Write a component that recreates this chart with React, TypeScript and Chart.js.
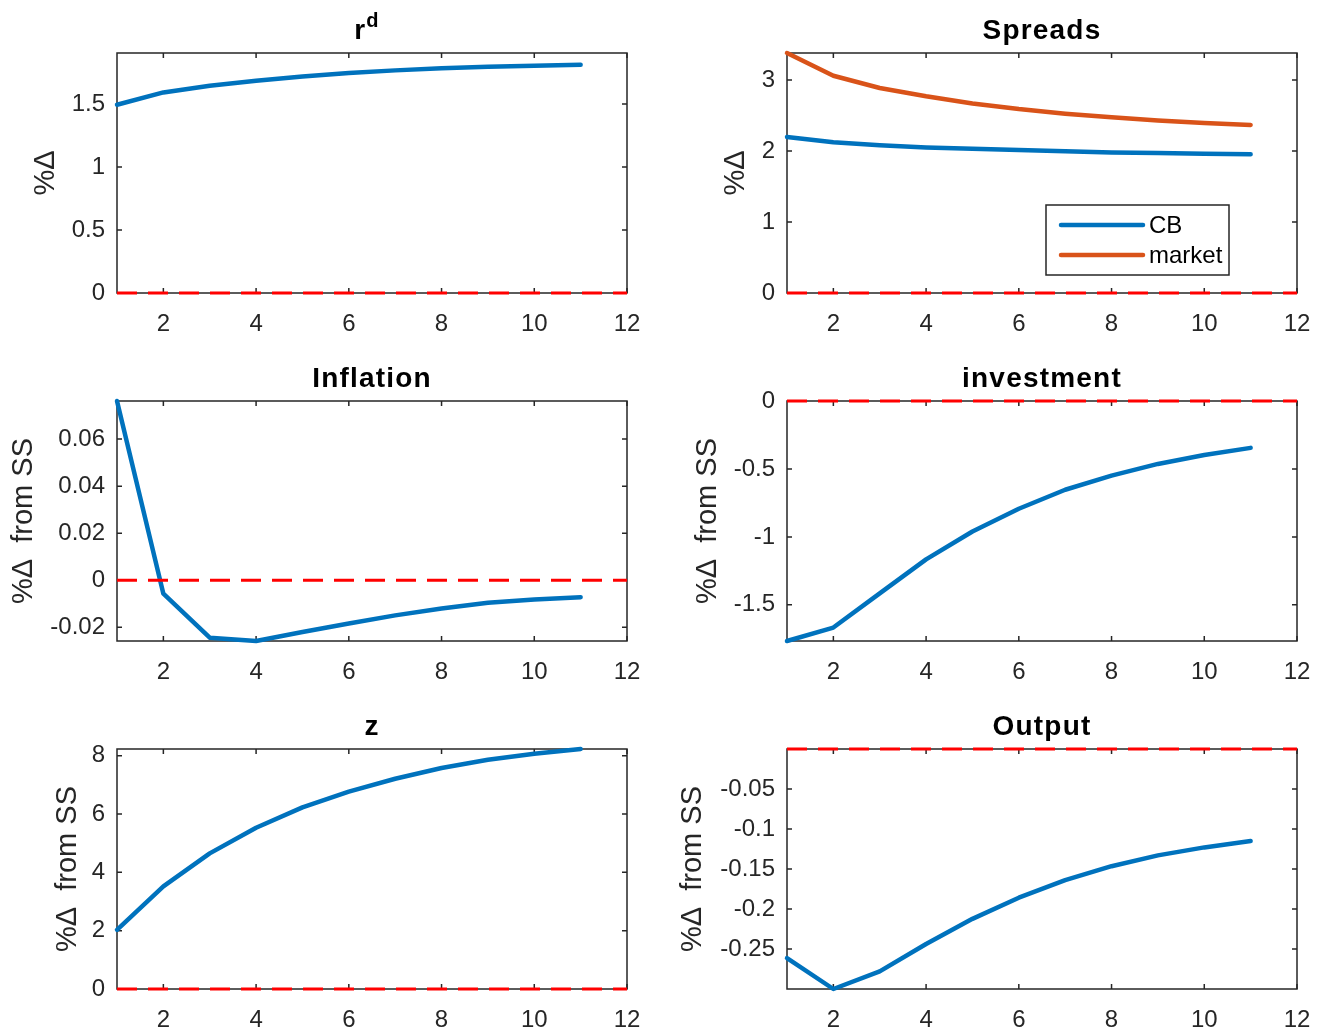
import React, { useEffect, useRef } from "react";
import { Chart, registerables } from "chart.js";

Chart.register(...registerables);

// ---------------- data ----------------
const periods = [1, 2, 3, 4, 5, 6, 7, 8, 9, 10, 11];
const xLimits = [1, 12];
const xTicks = [2, 4, 6, 8, 10, 12];

const rdValues = [1.495, 1.593, 1.646, 1.686, 1.72, 1.747, 1.768, 1.784, 1.797, 1.805, 1.813];
const rdLimits = [0, 1.906];
const rdTicks = [0, 0.5, 1, 1.5];

const spreadCB = [2.197, 2.122, 2.08, 2.05, 2.033, 2.014, 1.995, 1.98, 1.972, 1.962, 1.953];
const spreadMarket = [3.38, 3.06, 2.887, 2.77, 2.67, 2.59, 2.526, 2.474, 2.43, 2.394, 2.366];
const spreadLimits = [0, 3.38];
const spreadTicks = [0, 1, 2, 3];

const inflationValues = [0.0762, -0.0057, -0.0244, -0.0258, -0.022, -0.0184, -0.0149, -0.012, -0.0095, -0.0082, -0.0072];
const inflationLimits = [-0.0258, 0.0762];
const inflationTicks = [-0.02, 0, 0.02, 0.04, 0.06];

const investmentValues = [-1.766, -1.667, -1.416, -1.165, -0.96, -0.793, -0.653, -0.549, -0.463, -0.397, -0.345];
const investmentLimits = [-1.766, 0];
const investmentTicks = [-1.5, -1, -0.5, 0];

const zValues = [2.03, 3.52, 4.65, 5.53, 6.23, 6.77, 7.21, 7.58, 7.86, 8.07, 8.23];
const zLimits = [0, 8.23];
const zTicks = [0, 2, 4, 6, 8];

const outputValues = [-0.2613, -0.3, -0.278, -0.2437, -0.2123, -0.1859, -0.164, -0.1465, -0.133, -0.123, -0.115];
const outputLimits = [-0.3, 0];
const outputTicks = [-0.25, -0.2, -0.15, -0.1, -0.05];

// ---------------- styles ----------------
const BLUE = "#0072BD";
const ORANGE = "#D95319";
const AXIS = "#262626";
const FONT = "'Liberation Sans', Arial, Helvetica, sans-serif";

const COL_LEFT = [0, 664];
const COL_W = [664, 664];
const AXIS_LEFT = [117, 787];
const AXIS_RIGHT = [627, 1297];
const ROW_TOP = [0, 348, 696];
const ROW_H = [345, 345, 335];
const PLOT_TOP = 53;
const PLOT_H = 240;

type Series = { label: string; values: number[]; color: string };
type Panel = {
  title: string;
  sup?: string;
  yLabel: string;
  yLabelPad: number;
  series: Series[];
  limits: number[];
  ticks: number[];
  col: number;
  row: number;
  legend?: boolean;
};

const panels: Panel[] = [
  { title: "r", sup: "d", yLabel: "%Δ", yLabelPad: 29, series: [{ label: "rd", values: rdValues, color: BLUE }], limits: rdLimits, ticks: rdTicks, col: 0, row: 0 },
  {
    title: "Spreads", yLabel: "%Δ", yLabelPad: 55,
    series: [
      { label: "CB", values: spreadCB, color: BLUE },
      { label: "market", values: spreadMarket, color: ORANGE },
    ],
    limits: spreadLimits, ticks: spreadTicks, col: 1, row: 0, legend: true,
  },
  { title: "Inflation", yLabel: "%Δ  from SS", yLabelPad: 7, series: [{ label: "Inflation", values: inflationValues, color: BLUE }], limits: inflationLimits, ticks: inflationTicks, col: 0, row: 1 },
  { title: "investment", yLabel: "%Δ  from SS", yLabelPad: 27, series: [{ label: "investment", values: investmentValues, color: BLUE }], limits: investmentLimits, ticks: investmentTicks, col: 1, row: 1 },
  { title: "z", yLabel: "%Δ  from SS", yLabelPad: 51, series: [{ label: "z", values: zValues, color: BLUE }], limits: zLimits, ticks: zTicks, col: 0, row: 2 },
  { title: "Output", yLabel: "%Δ  from SS", yLabelPad: 12, series: [{ label: "Output", values: outputValues, color: BLUE }], limits: outputLimits, ticks: outputTicks, col: 1, row: 2 },
];

// ---------------- plugins ----------------
const TICK_LEN = 5;

const framePlugin = {
  id: "frame",
  beforeDatasetsDraw(chart: any) {
    const { ctx, chartArea } = chart;
    const { left, right, top, bottom } = chartArea;
    const xs = chart.scales.x;
    const ys = chart.scales.y;
    ctx.save();
    ctx.strokeStyle = AXIS;
    ctx.lineWidth = 1.5;
    ctx.strokeRect(left, top, right - left, bottom - top);
    ctx.beginPath();
    xs.ticks.forEach((t: any) => {
      const px = xs.getPixelForValue(t.value);
      ctx.moveTo(px, bottom);
      ctx.lineTo(px, bottom - TICK_LEN);
      ctx.moveTo(px, top);
      ctx.lineTo(px, top + TICK_LEN);
    });
    ys.ticks.forEach((t: any) => {
      const py = ys.getPixelForValue(t.value);
      ctx.moveTo(left, py);
      ctx.lineTo(left + TICK_LEN, py);
      ctx.moveTo(right, py);
      ctx.lineTo(right - TICK_LEN, py);
    });
    ctx.stroke();
    ctx.restore();
  },
};

const titlePlugin = {
  id: "panelTitle",
  afterDraw(chart: any, _args: any, opts: any) {
    const { ctx, chartArea } = chart;
    const cx = (chartArea.left + chartArea.right) / 2;
    const by = chartArea.top - 14.5;
    ctx.save();
    ctx.fillStyle = "#000";
    ctx.textBaseline = "alphabetic";
    ctx.textAlign = "left";
    try { (ctx as any).letterSpacing = "1.2px"; } catch (e) {}
    ctx.font = `bold 28px ${FONT}`;
    const w1 = ctx.measureText(opts.text).width;
    let w2 = 0;
    if (opts.sup) {
      ctx.font = `bold 20px ${FONT}`;
      w2 = ctx.measureText(opts.sup).width;
    }
    const x0 = cx - (w1 + w2) / 2 - (opts.sup ? 5 : 0);
    ctx.font = `bold 28px ${FONT}`;
    ctx.fillText(opts.text, x0, by);
    if (opts.sup) {
      ctx.font = `bold 20px ${FONT}`;
      ctx.fillText(opts.sup, x0 + w1, by - 12);
    }
    ctx.restore();
  },
};

const insetLegendPlugin = {
  id: "insetLegend",
  afterDraw(chart: any, _args: any, opts: any) {
    if (!opts || !opts.show) return;
    const { ctx, chartArea } = chart;
    const w = 183;
    const h = 70;
    const bx = chartArea.right - 68 - w;
    const by = chartArea.top + 152;
    const items = chart.data.datasets.filter((d: any) => d.label);
    ctx.save();
    ctx.fillStyle = "#fff";
    ctx.fillRect(bx, by, w, h);
    ctx.strokeStyle = AXIS;
    ctx.lineWidth = 1.5;
    ctx.strokeRect(bx, by, w, h);
    items.forEach((d: any, i: number) => {
      const y = by + 20 + i * 30;
      ctx.strokeStyle = d.borderColor;
      ctx.lineWidth = 4.5;
      ctx.lineCap = "round";
      ctx.beginPath();
      ctx.moveTo(bx + 15, y);
      ctx.lineTo(bx + 97, y);
      ctx.stroke();
      ctx.fillStyle = "#000";
      ctx.font = `24px ${FONT}`;
      ctx.textAlign = "left";
      ctx.textBaseline = "middle";
      ctx.fillText(d.label, bx + 103, y + 1.5);
    });
    ctx.restore();
  },
};

// ---------------- component ----------------
function PanelChart({ p }: { p: Panel }) {
  const ref = useRef<HTMLCanvasElement | null>(null);
  const width = COL_W[p.col];
  const height = ROW_H[p.row];
  const yAxisW = AXIS_LEFT[p.col] - COL_LEFT[p.col];
  const rightPad = COL_LEFT[p.col] + width - AXIS_RIGHT[p.col];
  const xAxisH = height - PLOT_TOP - PLOT_H;

  useEffect(() => {
    if (!ref.current) return;
    const datasets: any[] = p.series.map((s) => ({
      label: s.label,
      data: periods.map((x, i) => ({ x, y: s.values[i] })),
      borderColor: s.color,
      backgroundColor: s.color,
      borderWidth: 4.5,
      pointRadius: 0,
      borderCapStyle: "round",
      borderJoinStyle: "round",
      tension: 0,
      fill: false,
      clip: 4,
    }));
    datasets.push({
      label: "",
      data: xLimits.map((x) => ({ x, y: 0 })),
      borderColor: "#ff0000",
      borderWidth: 3,
      borderDash: [20, 11],
      pointRadius: 0,
      fill: false,
      order: -1,
      clip: 4,
    });
    const chart = new Chart(ref.current, {
      type: "line",
      data: { datasets },
      options: {
        animation: false,
        responsive: false,
        maintainAspectRatio: false,
        devicePixelRatio: 1,
        layout: { padding: { left: 0, top: PLOT_TOP, right: rightPad, bottom: 0 } },
        plugins: {
          legend: { display: false },
          tooltip: { enabled: false },
          title: { display: false },
          panelTitle: { text: p.title, sup: p.sup || "" },
          insetLegend: { show: !!p.legend },
        } as any,
        scales: {
          x: {
            type: "linear",
            min: xLimits[0],
            max: xLimits[1],
            grid: { display: false, drawTicks: false },
            border: { display: false },
            ticks: {
              color: AXIS,
              font: { size: 24, family: FONT },
              padding: 17,
              maxRotation: 0,
              autoSkip: false,
              callback: (v: any) => String(v),
            },
            afterBuildTicks: (s: any) => {
              s.ticks = xTicks.map((v) => ({ value: v }));
            },
            afterFit: (s: any) => {
              s.height = xAxisH;
              s.paddingLeft = 0;
              s.paddingRight = 0;
            },
          },
          y: {
            type: "linear",
            min: p.limits[0],
            max: p.limits[1],
            grid: { display: false, drawTicks: false },
            border: { display: false },
            ticks: {
              color: AXIS,
              font: { size: 24, family: FONT },
              padding: 12,
              autoSkip: false,
              callback: (v: any) => String(v),
            },
            title: {
              display: true,
              text: p.yLabel,
              color: AXIS,
              font: { size: 29, family: FONT },
              padding: { top: p.yLabelPad, bottom: 0 },
            },
            afterBuildTicks: (s: any) => {
              s.ticks = p.ticks.map((v) => ({ value: v }));
            },
            afterFit: (s: any) => {
              s.width = yAxisW;
              s.paddingTop = 0;
              s.paddingBottom = 0;
            },
          },
        },
      } as any,
      plugins: [framePlugin, titlePlugin, insetLegendPlugin],
    });
    return () => chart.destroy();
  }, []);

  return (
    <canvas
      ref={ref}
      width={width}
      height={height}
      style={{
        position: "absolute",
        left: COL_LEFT[p.col],
        top: ROW_TOP[p.row],
        width,
        height,
      }}
    />
  );
}

export default function App() {
  return (
    <div
      style={{
        position: "absolute",
        left: 0,
        top: 0,
        width: 1328,
        height: 1031,
        overflow: "hidden",
        background: "#fff",
      }}
    >
      {panels.map((p, i) => (
        <PanelChart key={i} p={p} />
      ))}
    </div>
  );
}
